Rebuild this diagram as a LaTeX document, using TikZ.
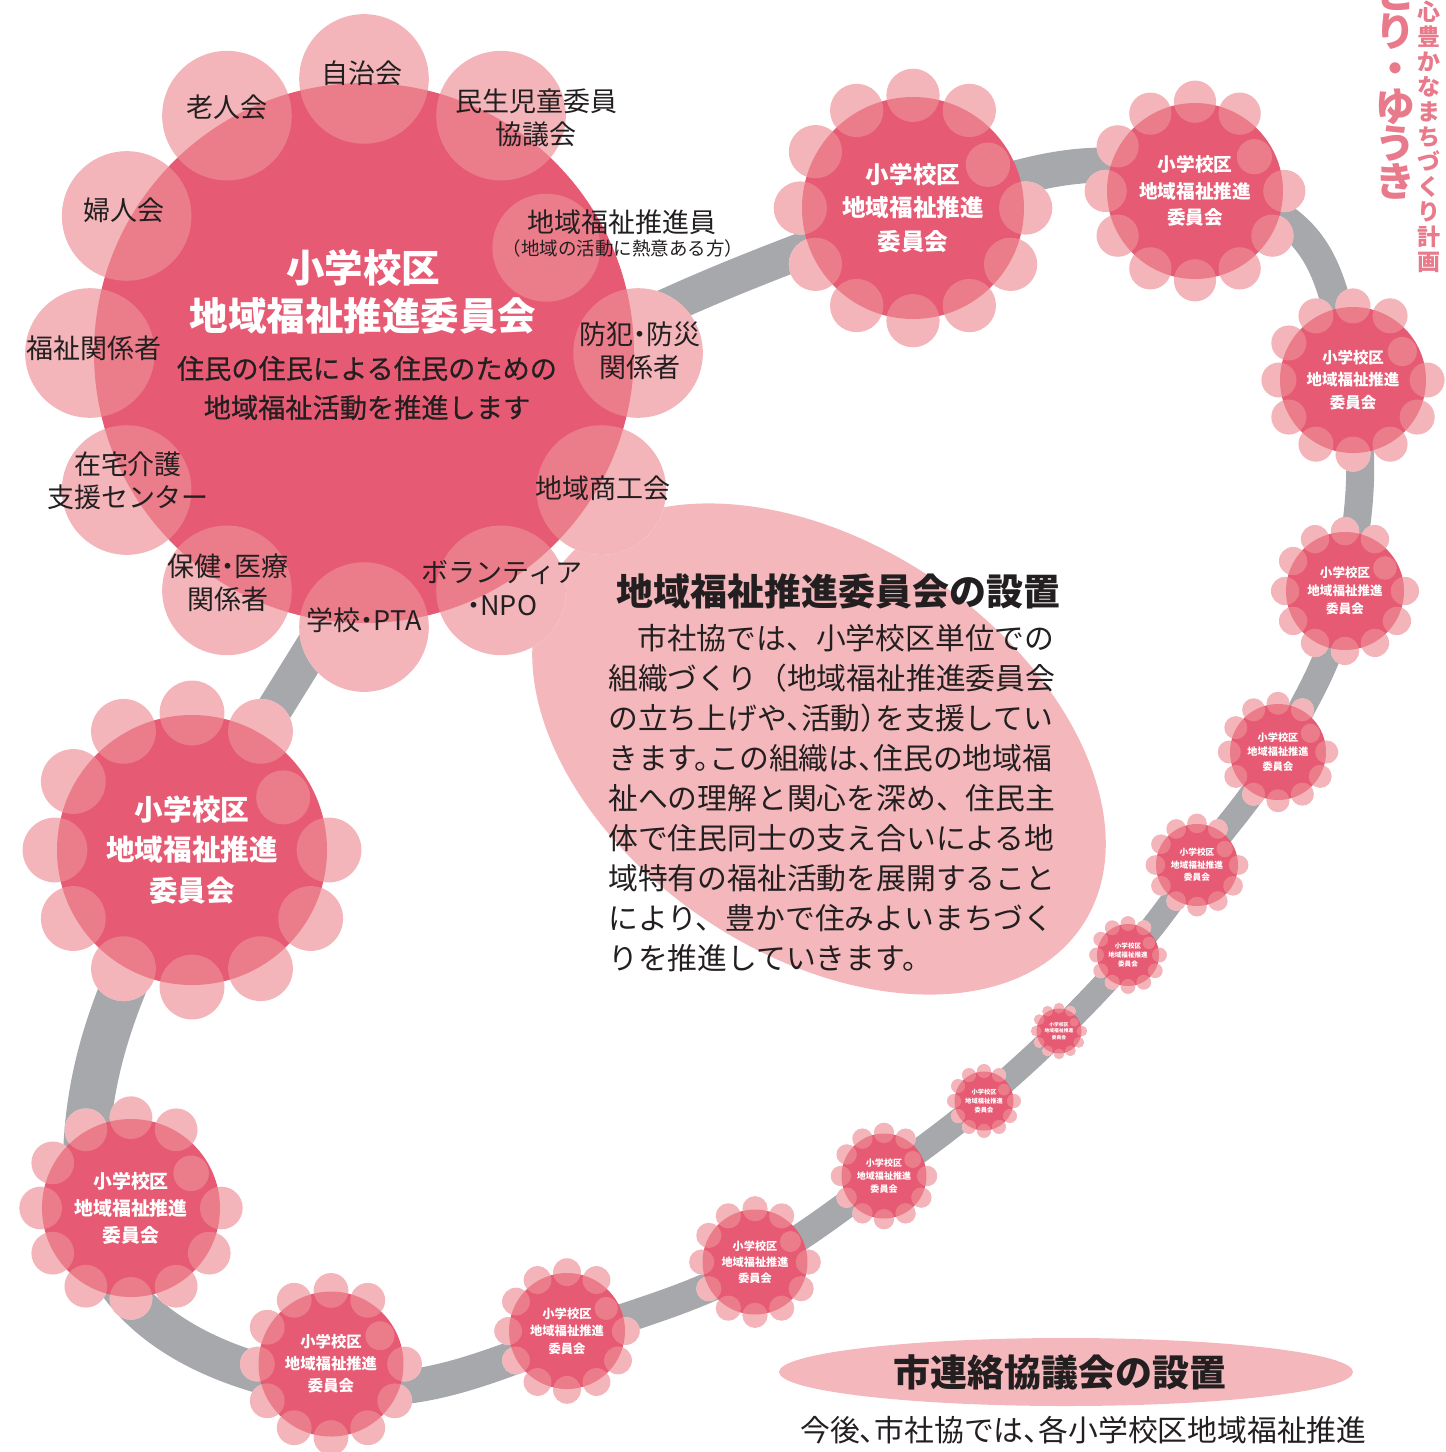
\documentclass[tikz,border=0pt]{standalone}
\usepackage{fontspec}
\setmainfont{Noto Sans CJK JP}
\newfontfamily\jpmed{Noto Sans CJK JP}[FakeBold=0.6]
\definecolor{mainred}{RGB}{230,90,115}
\definecolor{petalc}{RGB}{238,143,150}
\definecolor{lpink}{RGB}{244,184,188}
\definecolor{ringgray}{RGB}{166,168,171}
\definecolor{txtdark}{RGB}{35,31,32}
\definecolor{pinktxt}{RGB}{232,122,139}
\newcommand\hw[1]{#1\kern-0.5em}
\newcommand\ndot{\kern-0.25em・\kern-0.25em}
\newcommand\tightlines{\lineskiplimit=-100pt\relax}
\tikzset{
  flcore/.style={circle, fill=mainred, draw=none, inner sep=0pt, outer sep=0pt},
  petal/.style={fill=petalc, fill opacity=0.66},
  ring/.style={draw=ringgray, line cap=butt},
  lbl/.style={text=txtdark, font=\fontsize{27}{33}\selectfont, align=center, inner sep=0pt},
  fltext/.style={text=white, align=center, inner sep=0pt},
  bodytxt/.style={text=txtdark, font=\fontsize{29.8}{40}\selectfont, anchor=base west, inner sep=0pt},
  vtxt/.style={text=pinktxt, align=center, inner sep=0pt}
}
\newcommand\flwr[4]{%
  \pgfmathsetmacro\flD{1.015*#4}%
  \pgfmathsetmacro\flP{0.24*#4}%
  \pgfmathsetmacro\flI{0.78*#4}%
  \pgfmathsetmacro\flQ{0.2*#4}%
  \pgfmathsetmacro\flS{2*#4}%
  \foreach \a in {0,60,90,...,330}{\fill[white] (#2,#3) ++(-\a:\flD) circle (\flP);}
  \node[flcore, minimum size=\flS pt] (#1) at (#2,#3) {};
  \foreach \a in {0,60,90,...,330}{\fill[petal] (#1.center) ++(-\a:\flD) circle (\flP);}
  \fill[petal] (#1.center) ++(-30:\flI) circle (\flQ);
}
\newcommand\flwrtxt[2]{%
  \pgfmathsetmacro\flF{0.212*#2}%
  \pgfmathsetmacro\flL{1.43*\flF}%
  \node[fltext, font=\bfseries\fontsize{\flF}{\flL}\selectfont] (#1t) at (#1.center) {小学校区\\地域福祉推進\\委員会};
}
\begin{document}
\begin{tikzpicture}[x=1pt,y=-1pt]
\useasboundingbox (0,0) rectangle (1446,1452);

% central text blob
\fill[lpink, rotate around={-34:(819,749)}] (819,749) ellipse [x radius=317, y radius=205];
% bottom banner
\fill[lpink] (1066,1372) ellipse [x radius=287, y radius=34];

% ring coordinates
\coordinate (R0) at (452,423);
\coordinate (R1) at (182,858);
\coordinate (R2) at (86,1195);
\coordinate (R3) at (330,1388);
\coordinate (R4) at (567,1338);
\coordinate (R5) at (755,1265);
\coordinate (R6) at (884,1177);
\coordinate (R7) at (983,1101);
\coordinate (R8) at (1059,1031);
\coordinate (R9) at (1128,957);
\coordinate (R10) at (1197,866);
\coordinate (R11) at (1278,752);
\coordinate (R12) at (1345,592);
\coordinate (R13) at (1352,382);
\coordinate (R14) at (1195,182);
\coordinate (R15) at (912,210);

\draw[ring, line width=36] (R0) -- (R1);
\draw[ring, line width=46] (R1) to[out=-115,in=92] (R2);
\draw[ring, line width=40] (R2) to[out=-85,in=172] (R3);
\draw[ring, line width=34] (R3) to[out=-5,in=-160] (R4);
\draw[ring, line width=30] (R4) to[out=20,in=-152] (R5);
\draw[ring, line width=27] (R5) to[out=30,in=-144] (R6);
\draw[ring, line width=25] (R6) to[out=37,in=-140] (R7);
\draw[ring, line width=24] (R7) to[out=42,in=-135] (R8);
\draw[ring, line width=24] (R8) to[out=46,in=-130] (R9);
\draw[ring, line width=24] (R9) to[out=50,in=-125] (R10);
\draw[ring, line width=25] (R10) to[out=55,in=-118] (R11);
\draw[ring, line width=27] (R11) to[out=62,in=-100] (R12);
\draw[ring, line width=28] (R12) to[out=79,in=-80] (R13);
\draw[ring, line width=30] (R13) to[out=100,in=-15,looseness=1.3] (R14);
\draw[ring, line width=35] (R14) to[out=160,in=17] (R15);
\draw[ring, line width=36] (R15) to[out=200,in=32] (R0);

% big flower
\flwr{big}{364}{353}{270}
\node[fltext, font=\bfseries\fontsize{38.5}{48}\selectfont] (bigtitle) at (363,292) {小学校区\\地域福祉推進委員会};
\node[text=txtdark, align=center, inner sep=0pt, font=\jpmed\fontsize{27.2}{39}\selectfont] (bigsub) at (367,388) {住民の住民による住民のための\\地域福祉活動を推進します};

\node[lbl] (l1) at (362,73) {自治会};
\node[lbl] (l2) at (227,107) {老人会};
\node[lbl] (l3) at (536,118) {民生児童委員\\協議会};
\node[lbl] (l4) at (124,210) {婦人会};
\node[lbl] (l5) at (622,222) {地域福祉推進員};
\node[lbl, font=\fontsize{18.5}{20}\selectfont] (l5b) at (623,248) {（地域の活動に熱意ある方）};
\node[lbl] (l6) at (94,348) {福祉関係者};
\node[lbl] (l7) at (640,351) {防犯\ndot 防災\\関係者};
\node[lbl] (l8) at (128,481) {在宅介護\\支援センター};
\node[lbl] (l9) at (603,488) {地域商工会};
\node[lbl] (l10) at (228,583) {保健\ndot 医療\\関係者};
\node[lbl] (l11) at (364,620) {学校\ndot PTA};
\node[lbl] (l12) at (502,588) {ボランティア\\\ndot NPO};

% small flowers
\flwr{f1}{192}{850}{135}\flwrtxt{f1}{135}
\flwr{f2}{913}{208}{111}\flwrtxt{f2}{111}
\flwr{f3}{1195}{191}{88}\flwrtxt{f3}{88}
\flwr{f4}{1353}{380}{73}\flwrtxt{f4}{73}
\flwr{f5}{1345}{591}{59}\flwrtxt{f5}{59}
\flwr{f6}{1278}{752}{48}\flwrtxt{f6}{48}
\flwr{f7}{1197}{865}{41}\flwrtxt{f7}{41}
\flwr{f8}{1128}{955}{31}\flwrtxt{f8}{31}
\flwr{f9}{1059}{1031}{22.5}\flwrtxt{f9}{22.5}
\flwr{f10}{984}{1101}{29.5}\flwrtxt{f10}{29.5}
\flwr{f11}{884}{1176}{42.5}\flwrtxt{f11}{42.5}
\flwr{f12}{755}{1262}{52.5}\flwrtxt{f12}{52.5}
\flwr{f13}{567}{1331}{58}\flwrtxt{f13}{58}
\flwr{f14}{331}{1364}{72.5}\flwrtxt{f14}{72.5}
\flwr{f15}{131}{1208}{89}\flwrtxt{f15}{89}

% central text
\node[text=txtdark, inner sep=0pt, font=\bfseries\fontsize{37}{40}\selectfont] (head) at (838,591) {地域福祉推進委員会の設置};
\node[bodytxt] (b1) at (637,649) {市社協では、小学校区単位での};
\node[bodytxt] (b2) at (608,689) {組織づくり（地域福祉推進委員会};
\node[bodytxt] (b3) at (608,729) {の立ち上げや\hw{、}活動\hw{）}を支援してい};
\node[bodytxt] (b4) at (608,769) {きます\hw{。}この組織は\hw{、}住民の地域福};
\node[bodytxt] (b5) at (608,809) {祉への理解と関心を深め、住民主};
\node[bodytxt] (b6) at (608,849) {体で住民同士の支え合いによる地};
\node[bodytxt] (b7) at (608,889) {域特有の福祉活動を展開すること};
\node[bodytxt] (b8) at (608,929) {により、豊かで住みよいまちづく};
\node[bodytxt] (b9) at (608,969) {りを推進していきます。};

% bottom
\node[text=txtdark, inner sep=0pt, font=\bfseries\fontsize{37}{40}\selectfont] (head2) at (1060,1372) {市連絡協議会の設置};
\node[bodytxt] (c1) at (800,1441) {今後\hw{、}市社協では\hw{、}各小学校区地域福祉推進};

% vertical texts top right
\node[vtxt, font=\bfseries\fontsize{23}{25}\selectfont] (vt1) at (1429,131) {、\\心\\豊\\か\\な\\ま\\ち\\づ\\く\\り\\計\\画};
\node[vtxt, font=\bfseries\fontsize{40}{37.5}\selectfont\tightlines] (vt2) at (1395,88) {と\\り\\・\\ゆ\\う\\き};
\end{tikzpicture}
\end{document}
